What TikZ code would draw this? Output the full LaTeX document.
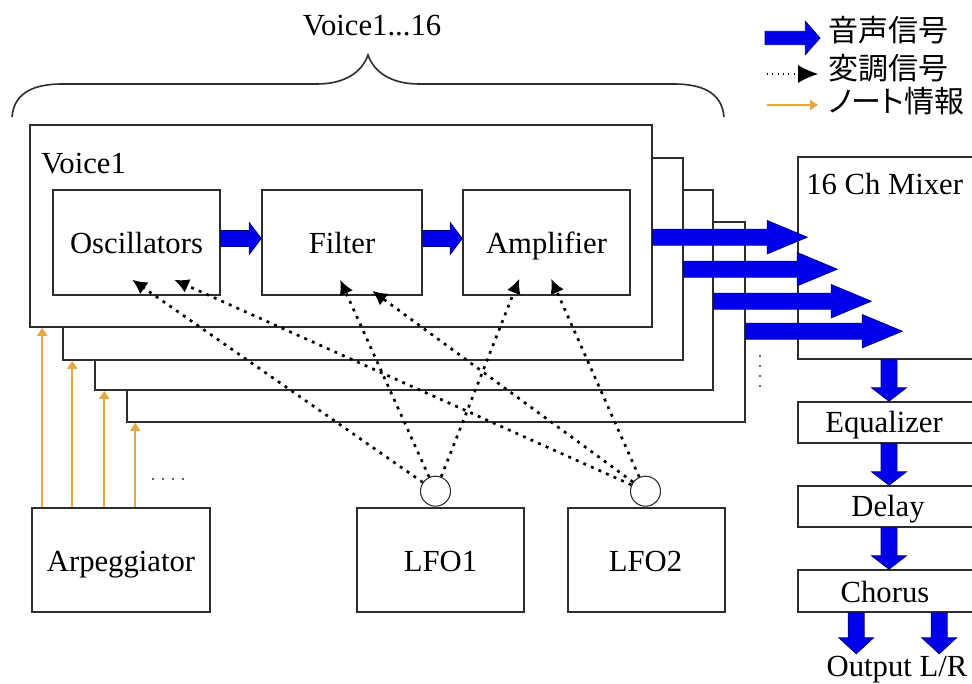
\documentclass[tikz,border=0pt]{standalone}
\usepackage{fontspec}
\setmainfont{Liberation Serif}
\newfontfamily\jpfont[RawFeature=+palt]{Noto Sans CJK JP}
\usetikzlibrary{arrows.meta,calc,fit}
\definecolor{sigblue}{RGB}{0,0,235}
\definecolor{sigedge}{RGB}{0,0,120}
\definecolor{noteor}{RGB}{232,168,64}
\definecolor{ln}{RGB}{45,45,45}
% horizontal block arrow: from #1 to #2, shaft half width #3, head half width #4, head length #5
\newcommand{\hblock}[5]{%
  \filldraw[sig] let \p1=(#1), \p2=(#2) in
    (\x1,{\y1+#3}) -- ({\x2-#5},{\y1+#3}) -- ({\x2-#5},{\y1+#4}) -- (\x2,\y1)
    -- ({\x2-#5},{\y1-#4}) -- ({\x2-#5},{\y1-#3}) -- (\x1,{\y1-#3}) -- cycle;}
% vertical (downward) block arrow
\newcommand{\vblock}[5]{%
  \filldraw[sig] let \p1=(#1), \p2=(#2) in
    ({\x1-#3},\y1) -- ({\x1-#3},{\y2+#5}) -- ({\x1-#4},{\y2+#5}) -- (\x1,\y2)
    -- ({\x1+#4},{\y2+#5}) -- ({\x1+#3},{\y2+#5}) -- ({\x1+#3},\y1) -- cycle;}
\begin{document}
\begin{tikzpicture}[x=0.75pt,y=-0.75pt,
  box/.style={draw=ln, line width=1.2pt, inner sep=0pt},
  txt/.style={font=\fontsize{23}{27}\selectfont, inner sep=0pt, text height=15pt, text depth=0pt},
  jpt/.style={font=\jpfont\fontsize{22.5}{26}\selectfont, inner sep=0pt, text height=19pt, text depth=2.5pt},
  sig/.style={fill=sigblue, draw=sigedge, line width=0.6pt},
  note/.style={draw=noteor, line width=1.4pt, -{Triangle[length=6pt,width=7.5pt]}},
  mod/.style={draw=black, line width=2pt, dash pattern=on 2.2pt off 4pt, -{Latex[length=11pt,width=11pt]}}]
\useasboundingbox (0,0) rectangle (972,684);
\clip (0,0) rectangle (972,684);
\fill[white] (0,0) rectangle (972,684);

% brace and title
\draw[ln, line width=1.2pt] (12,117) .. controls (14,92) and (35,84) .. (62,84) -- (317,84)
  .. controls (345,84) and (362,72) .. (368,55) .. controls (374,72) and (391,84) .. (419,84)
  -- (674,84) .. controls (701,84) and (722,92) .. (724,117);
\node[txt] (vtitle) at (372,26) {Voice1...16};

% voice stack
\node[box, fill=white, fit={(127,222)(745,422)}] (v4) {};
\node[box, fill=white, fit={(95,190)(713,390)}] (v3) {};
\node[box, fill=white, fit={(63,158)(683,360)}] (v2) {};
\node[box, fill=white, fit={(30,125)(652,327)}] (v1) {};
\node[txt, anchor=west] (vlab) at (41,164) {Voice1};

\node[box, fit={(53,190)(220,295)}] (osc) {};
\node[txt] (osclab) at ($(osc.center)+(0,1)$) {Oscillators};
\node[box, fit={(262,190)(422,295)}] (filt) {};
\node[txt] (filtlab) at ($(filt.center)+(0,1)$) {Filter};
\node[box, fit={(463,190)(630,295)}] (amp) {};
\node[txt] (amplab) at ($(amp.center)+(0,1)$) {Amplifier};

\hblock{$(osc.east)+(0,-4)$}{$(filt.west)+(0,-4)$}{6pt}{12pt}{9pt}
\hblock{$(filt.east)+(0,-4)$}{$(amp.west)+(0,-4)$}{6pt}{12pt}{9pt}

% mixer and effects chain
\node[box, fill=white, fit={(798,157)(990,359)}] (mix) {};
\node[txt, anchor=west] (mixlab) at (806,185) {16 Ch Mixer};
\node[box, fit={(798,402)(990,443)}] (eq) {};
\node[txt] (eqlab) at (884,423) {Equalizer};
\node[box, fit={(798,486)(990,527)}] (dly) {};
\node[txt] (dlylab) at (888,507) {Delay};
\node[box, fit={(798,570)(990,612)}] (cho) {};
\node[txt] (cholab) at (885,592) {Chorus};
\node[txt] (outlab) at (897,666) {Output L/R};

% voice outputs into mixer
\hblock{$(v1.north east)+(0,113)$}{$(mix.north west)+(10,81)$}{6pt}{12.5pt}{30pt}
\hblock{$(v2.north east)+(0,112)$}{$(mix.north west)+(40,113)$}{6pt}{12.5pt}{30pt}
\hblock{$(v3.north east)+(0,112)$}{$(mix.north west)+(74,145)$}{6pt}{12.5pt}{30pt}
\hblock{$(v4.north east)+(0,110)$}{$(mix.north west)+(105,175)$}{6pt}{12.5pt}{30pt}
\foreach \yy in {356,366,376,386} \fill[ln] (760,\yy) circle (1.1);

\coordinate (colx) at (889,0);
\vblock{mix.south -| colx}{eq.north -| colx}{6pt}{13pt}{10pt}
\vblock{eq.south -| colx}{dly.north -| colx}{6pt}{13pt}{10pt}
\vblock{dly.south -| colx}{cho.north -| colx}{6pt}{13pt}{10pt}
\vblock{$(cho.south west)+(59,0)$}{$(cho.south west)+(59,41)$}{6pt}{13pt}{12pt}
\vblock{$(cho.south west)+(142,0)$}{$(cho.south west)+(142,41)$}{6pt}{13pt}{12pt}

% bottom sources
\node[box, fit={(32,508)(210,612)}] (arp) {};
\node[txt] (arplab) at ($(arp.center)+(0,1)$) {Arpeggiator};
\node[box, fit={(357,508)(524,612)}] (lfo1) {};
\node[txt] (lfo1lab) at ($(lfo1.center)+(0,1)$) {LFO1};
\node[box, fit={(568,508)(725,612)}] (lfo2) {};
\node[txt] (lfo2lab) at ($(lfo2.center)+(-1,1)$) {LFO2};
\node[circle, draw=ln, line width=0.8pt, minimum size=22.5pt, inner sep=0pt, fill=white] (c1) at ($(lfo1.north)+(-5,-16)$) {};
\node[circle, draw=ln, line width=0.8pt, minimum size=22.5pt, inner sep=0pt, fill=white] (c2) at ($(lfo2.north)+(-1,-16)$) {};

% note information
\draw[note] ($(arp.north west)+(11,0)$) coordinate (n1) -- (n1 |- v1.south);
\draw[note] ($(arp.north west)+(41,0)$) coordinate (n2) -- (n2 |- v2.south);
\draw[note] ($(arp.north west)+(73,0)$) coordinate (n3) -- (n3 |- v3.south);
\draw[note] ($(arp.north west)+(104,0)$) coordinate (n4) -- (n4 |- v4.south);
\foreach \xx in {153,163,173,183} \fill[ln] (\xx,479) circle (1.1);

% modulation
\coordinate (oscL) at ($(osc.south west)+(80,-16)$);
\coordinate (oscR) at ($(osc.south west)+(122,-16)$);
\coordinate (filL) at ($(filt.south west)+(79,-16)$);
\coordinate (filR) at ($(filt.south west)+(111,-5)$);
\coordinate (ampL) at ($(amp.south west)+(57,-17)$);
\coordinate (ampR) at ($(amp.south west)+(89,-17)$);
\draw[mod] (c1) -- (oscL);
\draw[mod] (c1) -- (filL);
\draw[mod] (c1) -- (ampL);
\draw[mod] (c2) -- (oscR);
\draw[mod] (c2) -- (filR);
\draw[mod] (c2) -- (ampR);

% legend
\coordinate (lg1s) at (765,38);
\coordinate (lg1e) at (820,38);
\hblock{lg1s}{lg1e}{5pt}{12.5pt}{11pt}
\node[jpt, anchor=west] (lt1) at (828,31) {音声信号};
\coordinate (lg2s) at (767,74);
\coordinate (lg2e) at (818,74);
\draw[draw=black, line width=0.8pt, dash pattern=on 0.8pt off 3.2pt, -{Latex[length=15pt,width=13.5pt]}] (lg2s) -- (lg2e);
\node[jpt, anchor=west] (lt2) at (828,69) {変調信号};
\coordinate (lg3s) at (767,105);
\coordinate (lg3e) at (818,105);
\draw[note] (lg3s) -- (lg3e);
\node[jpt, anchor=west] (lt3) at (828,102) {ノート情報};
\end{tikzpicture}
\end{document}
